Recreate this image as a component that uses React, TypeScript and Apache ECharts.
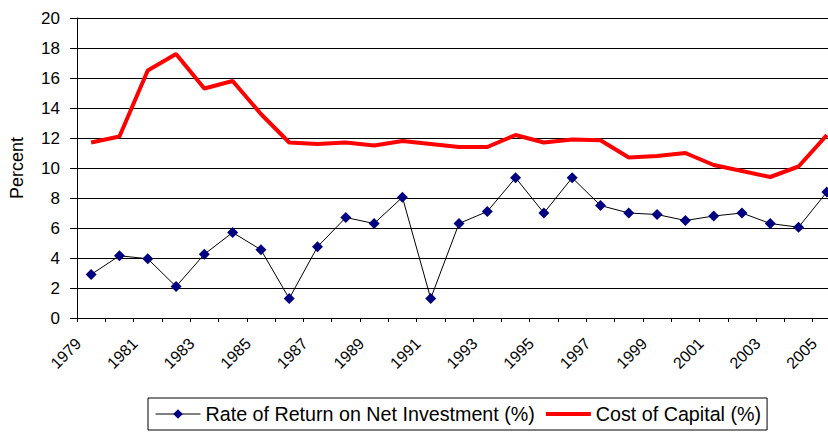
import React, { useEffect, useRef } from "react";
import * as echarts from "echarts";

const years = [
  "1979", "1980", "1981", "1982", "1983", "1984", "1985", "1986", "1987",
  "1988", "1989", "1990", "1991", "1992", "1993", "1994", "1995", "1996",
  "1997", "1998", "1999", "2000", "2001", "2002", "2003", "2004", "2005",
];

const rateOfReturn = [
  2.9, 4.15, 3.95, 2.1, 4.25, 5.7, 4.55, 1.3, 4.75, 6.7, 6.3, 8.05, 1.3, 6.3,
  7.1, 9.35, 7.0, 9.35, 7.5, 7.0, 6.9, 6.5, 6.8, 7.0, 6.3, 6.05, 8.4,
];

const costOfCapital = [
  11.7, 12.1, 16.5, 17.6, 15.3, 15.8, 13.6, 11.7, 11.6, 11.7, 11.5, 11.8,
  11.6, 11.4, 11.4, 12.2, 11.7, 11.9, 11.85, 10.7, 10.8, 11.0, 10.2, 9.8, 9.4,
  10.1, 12.2,
];

const seriesNames = ["Rate of Return on Net Investment (%)", "Cost of Capital (%)"];
const yTitle = "Percent";

const FONT = "'Liberation Sans', Arial, sans-serif";

export default function App() {
  const ref = useRef<HTMLDivElement>(null);

  useEffect(() => {
    if (!ref.current) return;
    const chart = echarts.init(ref.current, null, { renderer: "svg" });
    chart.setOption({
      animation: false,
      backgroundColor: "#ffffff",
      textStyle: { fontFamily: FONT, color: "#000" },
      grid: {
        left: 77,
        top: 18,
        width: 764,
        height: 300,
        containLabel: false,
        outerBoundsMode: "none",
      },
      legend: {
        left: 148,
        top: 398,
        orient: "horizontal",
        padding: [6, 6, 6, 7],
        borderColor: "#000",
        borderWidth: 1,
        itemWidth: 45,
        itemHeight: 12,
        itemGap: 9,
        textStyle: { fontFamily: FONT, fontSize: 19.7, color: "#000", lineHeight: 20 },
        data: [
          { name: seriesNames[0], lineStyle: { width: 1, color: "#000" } },
          { name: seriesNames[1], itemStyle: { opacity: 0 }, lineStyle: { width: 4, color: "#ff0000" } },
        ],
      },
      xAxis: {
        type: "category",
        data: years,
        boundaryGap: true,
        axisLine: { show: true, lineStyle: { color: "#000", width: 1 } },
        axisTick: { show: true, interval: 0, length: 4, lineStyle: { color: "#000" } },
        axisLabel: {
          interval: 1,
          rotate: 45,
          margin: 10,
          padding: [0, 18, 0, 0],
          fontSize: 16,
          fontFamily: FONT,
          color: "#000",
        },
        splitLine: { show: false },
      },
      yAxis: {
        type: "value",
        min: 0,
        max: 20,
        interval: 2,
        name: yTitle,
        nameLocation: "middle",
        nameGap: 51,
        nameRotate: 90,
        nameTextStyle: { fontFamily: FONT, fontSize: 18, color: "#000" },
        axisLine: { show: true, lineStyle: { color: "#000", width: 1 } },
        axisTick: { show: true, length: 7, lineStyle: { color: "#000" } },
        axisLabel: { margin: 17, fontSize: 17, fontFamily: FONT, color: "#000" },
        splitLine: { show: true, lineStyle: { color: "#000", width: 1 } },
      },
      series: [
        {
          name: seriesNames[0],
          type: "line",
          data: rateOfReturn,
          symbol: "diamond",
          symbolSize: 11,
          showAllSymbol: true,
          itemStyle: { color: "#000080" },
          lineStyle: { color: "#000", width: 1 },
          z: 3,
        },
        {
          name: seriesNames[1],
          type: "line",
          data: costOfCapital,
          symbol: "none",
          itemStyle: { color: "#ff0000" },
          lineStyle: { color: "#ff0000", width: 4 },
          z: 2,
        },
      ],
    });
    return () => chart.dispose();
  }, []);

  return (
    <div
      ref={ref}
      style={{ position: "fixed", left: 0, top: 0, width: 828, height: 432, background: "#fff" }}
    />
  );
}
